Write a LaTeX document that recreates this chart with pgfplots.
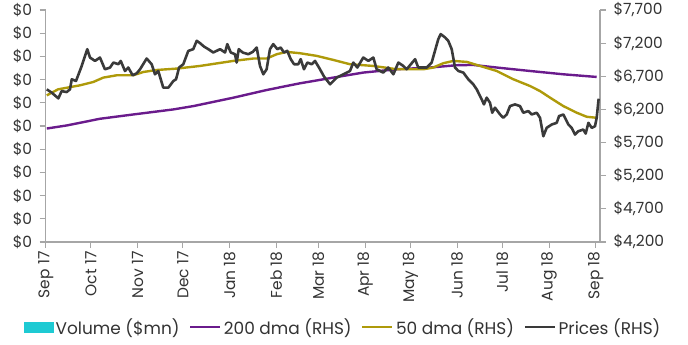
\documentclass[border=0pt]{standalone}
\usepackage{fontspec}
\setmainfont{Poppins}
\usepackage{pgfplots}
\pgfplotsset{compat=1.18}
\definecolor{dmapurple}{HTML}{6A1B8C}
\definecolor{dmagold}{HTML}{AE9A0A}
\definecolor{pricegray}{HTML}{3A3A3A}
\definecolor{volcyan}{HTML}{1ECAD3}
\definecolor{axgray}{HTML}{A6A6A6}
\definecolor{txt}{HTML}{333333}
\begin{document}
\begin{tikzpicture}
\useasboundingbox (0,0) rectangle (688bp,345bp);
\pgfplotsset{
 base/.style={
  scale only axis, width=554.3bp, height=232bp,
  at={(45.7bp,103bp)}, anchor=south west,
  xmin=0, xmax=367.8,
  axis line style={axgray, line width=1.1bp},
  tick style={axgray, line width=1.1bp},
  tick align=outside, major tick length=6bp,
  tick label style={font=\fontsize{15.5}{18}\selectfont, text=txt},
 }
}
\begin{axis}[base,
  axis x line*=bottom, axis y line*=left,
  ymin=0, ymax=10, ytick={0,1,2,3,4,5,6,7,8,9,10}, yticklabel={\$0},
  yticklabel style={xshift=-4bp},
  xtick={0,30,61,91,122,153,181,212,242,273,303,334,365},
  xticklabels={Sep 17,Oct 17,Nov 17,Dec 17,Jan 18,Feb 18,Mar 18,Apr 18,May 18,Jun 18,Jul 18,Aug 18,Sep 18},
  xticklabel style={rotate=90, anchor=east},
]
\end{axis}
\begin{axis}[base,
  axis x line=none, axis y line*=right,
  ymin=4200, ymax=7700, ytick={4200,4700,5200,5700,6200,6700,7200,7700},
  yticklabels={{\$4,200},{\$4,700},{\$5,200},{\$5,700},{\$6,200},{\$6,700},{\$7,200},{\$7,700}},
  yticklabel style={xshift=4bp},
  legend columns=4,
  legend cell align=left,
  legend image code/.code={\draw[#1] (0bp,0bp) -- (30bp,0bp);},
  legend style={at={(0.536,-0.366)}, anchor=center, draw=none, fill=none,
    font=\fontsize{17}{20}\selectfont, text=txt,
    nodes={inner xsep=1.5bp},
    /tikz/every odd column/.append style={column sep=1bp},
    /tikz/every even column/.append style={column sep=8bp}},
]
\addlegendimage{legend image code/.code={\fill[volcyan] (0bp,-5bp) rectangle (29bp,5bp);}}
\addlegendentry{Volume (\$mn)}
\addplot[dmapurple, line width=2.4bp] coordinates {
(0.7,5912) (13.9,5958) (36.0,6059) (58.1,6124) (84.7,6200) (97.9,6250) (124.5,6377)
(146.6,6493) (168.7,6594) (190.8,6680) (210.7,6756) (232.9,6806) (255.0,6832)
(272.7,6867) (283.7,6871) (299.3,6832) (321.4,6780) (343.5,6730) (365.6,6690)
};
\addlegendentry{200 dma (RHS)}
\addplot[dmagold, line width=2.4bp] coordinates {
(0.7,6412) (8.2,6503) (22.8,6564) (31.6,6614) (38.2,6680) (47.1,6715) (58.1,6715)
(64.8,6765) (73.7,6795) (86.9,6816) (102.4,6856) (124.5,6932) (137.8,6968) (146.6,6968)
(153.3,7033) (159.9,7068) (168.7,7048) (179.8,7008) (190.8,6947) (201.9,6882)
(217.4,6856) (232.9,6806) (250.6,6806) (257.2,6832) (263.8,6897) (270.5,6932)
(279.4,6917) (288.2,6856) (299.3,6780) (310.3,6655) (321.4,6553) (328.0,6477)
(334.7,6377) (343.5,6250) (352.4,6150) (359.0,6089) (365.6,6074)
};
\addlegendentry{50 dma (RHS)}
\addplot[pricegray, line width=2.6bp, line join=round] coordinates {
(0.7,6503) (4.0,6453) (8.4,6367) (10.6,6477) (13.9,6462) (16.1,6503) (17.3,6655)
(20.1,6629) (23.9,6856) (27.6,7109) (29.4,6983) (32.7,6932) (36.0,6983) (39.3,6806)
(42.7,6832) (44.9,6907) (48.2,6882) (49.8,6932) (52.6,6780) (54.8,6832) (57.7,6715)
(60.4,6745) (62.6,6806) (67.0,6968) (70.3,6882) (72.5,6730) (74.7,6780) (78.0,6529)
(81.4,6529) (84.7,6629) (86.5,6655) (88.5,6832) (91.3,6882) (94.6,7083) (97.9,7109)
(100.2,7235) (102.4,7200) (105.0,7149) (107.9,7109) (111.2,7059) (115.7,7109)
(119.0,7059) (120.5,7185) (122.8,7059) (125.6,7033) (126.7,6907) (128.1,7109)
(130.7,7059) (134.4,7033) (137.4,7068) (140.0,7134) (142.2,6856) (144.4,6730)
(146.6,6806) (148.8,7109) (151.0,7185) (153.7,7109) (155.9,7134) (158.1,7059)
(160.3,7083) (162.6,6958) (164.8,6882) (167.6,6882) (169.2,6958) (170.3,6882)
(171.4,6806) (173.6,6907) (176.5,6882) (178.7,6932) (182.0,6806) (184.7,6695)
(188.7,6579) (193.1,6680) (197.5,6730) (201.9,6780) (204.1,6907) (206.8,6832)
(210.7,6983) (214.1,6932) (217.4,6983) (219.6,6806) (224.0,6756) (227.3,6832)
(230.7,6730) (234.0,6907) (237.3,6856) (239.5,6806) (245.1,6958) (247.2,6832)
(252.8,6832) (256.1,6907) (260.5,7261) (262.1,7336) (265.0,7286) (267.1,7235)
(269.4,7109) (271.6,6832) (273.8,6780) (277.1,6756) (280.4,6655) (283.7,6579)
(286.0,6503) (289.3,6352) (290.8,6276) (292.6,6377) (294.8,6301) (296.3,6150)
(298.1,6226) (301.5,6124) (303.6,6074) (305.9,6124) (308.1,6250) (311.4,6276)
(314.7,6250) (316.9,6150) (320.2,6175) (322.5,6124) (325.8,6150) (328.0,6074)
(330.2,5795) (332.4,5922) (335.8,5973) (339.1,5998) (340.6,6099) (343.5,6124)
(346.8,5973) (349.0,5922) (351.2,5821) (353.4,5871) (356.7,5897) (358.3,5836)
(360.1,5998) (362.3,5922) (364.5,5947) (365.6,6074) (366.9,6362)
};
\addlegendentry{Prices (RHS)}
\end{axis}
\end{tikzpicture}
\end{document}
